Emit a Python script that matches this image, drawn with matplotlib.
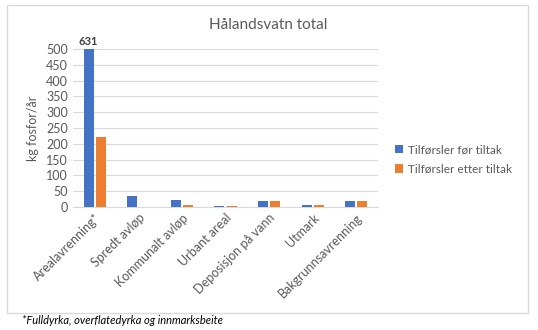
import numpy as np
import matplotlib.pyplot as plt
from matplotlib.patches import Rectangle

plt.rcParams['font.family'] = ['Lato', 'DejaVu Sans']

kategorier = ['Arealavrenning*', 'Spredt avløp', 'Kommunalt avløp', 'Urbant areal',
              'Deposisjon på vann', 'Utmark', 'Bakgrunnsavrenning']
for_tiltak = [631, 35, 21, 4, 20, 5, 20]
etter_tiltak = [222, 0, 6, 4, 20, 5, 20]

blaa = '#4472C4'
oransje = '#ED7D31'
graa = '#595959'

fig = plt.figure(figsize=(5.38, 3.30), dpi=100)
fig.patch.set_facecolor('white')

# ramme rundt diagrammet
fig.patches.append(Rectangle((7 / 538, 1 - 313 / 330), 521 / 538, 308 / 330,
                             transform=fig.transFigure, fill=False,
                             edgecolor='#d9d9d9', linewidth=1))

ax = fig.add_axes([73 / 538, 1 - 207 / 330, 305 / 538, 158 / 330])
x = np.arange(len(kategorier))
b = 0.23
ax.bar(x - 0.14, for_tiltak, b, color=blaa, label='Tilførsler før tiltak', zorder=3)
ax.bar(x + 0.14, etter_tiltak, b, color=oransje, label='Tilførsler etter tiltak', zorder=3)

ax.set_ylim(0, 500)
ax.set_xlim(-0.5, len(kategorier) - 0.5)
ax.set_yticks(range(0, 501, 50))
ax.grid(axis='y', color='#d9d9d9', linewidth=0.8, zorder=0)
for s in ['top', 'right', 'left']:
    ax.spines[s].set_visible(False)
ax.spines['bottom'].set_color('#d9d9d9')
ax.tick_params(length=0, colors=graa, labelsize=9)
ax.set_xticks(x)
ax.set_xticklabels(kategorier, rotation=45, ha='right', rotation_mode='anchor')
ax.set_ylabel('kg fosfor/år', color=graa, fontsize=9, labelpad=5)

# verdien til den avkuttede søylen
ax.text(x[0] - 0.14, 506, str(for_tiltak[0]), ha='center', va='bottom',
        fontsize=8, fontweight='bold', color='#404040')

fig.text(268 / 538, 1 - 25 / 330, 'Hålandsvatn total', ha='center', va='center',
         fontsize=11, color=graa)

ax.legend(loc='center left', bbox_to_anchor=(1.02, 0.3), frameon=False,
          fontsize=8.5, labelcolor=graa, handlelength=0.7, handleheight=0.7,
          handletextpad=0.4, labelspacing=0.7)

fig.text(22 / 538, 1 - 321 / 330, '*Fulldyrka, overflatedyrka og innmarksbeite',
         ha='left', va='center', fontsize=8, style='italic', color='black')

fig.savefig('out.png', dpi=100)
